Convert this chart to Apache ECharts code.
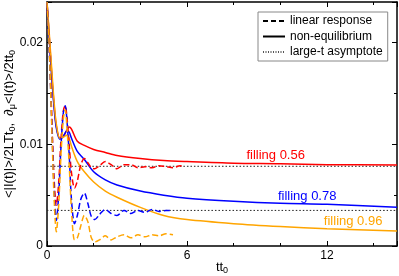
<!DOCTYPE html>
<html>
<head>
<meta charset="utf-8">
<script src="https://cdn.jsdelivr.net/npm/echarts@6/dist/echarts.min.js"></script>
<style>html,body{margin:0;padding:0;background:#fff}#c{width:399px;height:276px}</style>
</head>
<body>
<div id="c"></div>
<script>
// time grid for non-equilibrium (solid) curves
var tSolid = [0, 0.1, 0.2, 0.3, 0.4, 0.55, 0.7, 0.85, 0.95, 1.05, 1.3, 1.6, 2, 2.5, 3, 4, 5, 6, 8, 10, 12, 15];
var redSolid    = [0.024, 0.0205, 0.017, 0.0140, 0.0118, 0.0106, 0.0108, 0.0114, 0.0117, 0.0115, 0.0103, 0.0099, 0.0095, 0.0092, 0.0089, 0.0086, 0.0084, 0.0083, 0.00815, 0.0081, 0.0080, 0.00797];
var blueSolid   = [0.024, 0.0203, 0.0167, 0.0137, 0.0116, 0.0105, 0.0108, 0.0113, 0.0112, 0.0106, 0.0093, 0.0085, 0.0073, 0.0065, 0.0060, 0.0054, 0.0050, 0.0047, 0.0044, 0.0042, 0.0041, 0.0038];
var orangeSolid = [0.024, 0.0208, 0.0175, 0.0143, 0.0120, 0.0106, 0.0107, 0.0109, 0.0106, 0.0098, 0.0083, 0.0073, 0.0063, 0.0054, 0.0048, 0.0038, 0.0030, 0.0026, 0.0022, 0.00192, 0.0017, 0.00147];

// time grid for linear response (dashed) curves
var tDash = [0, 0.1, 0.2, 0.3, 0.4, 0.5, 0.6, 0.7, 0.78, 0.85, 0.95, 1.05, 1.18, 1.3, 1.45, 1.6, 1.75, 1.9, 2.05, 2.25, 2.5, 2.75, 3, 3.3, 3.6, 3.9, 4.2, 4.5, 4.8, 5.1, 5.4, 5.7, 5.9];
var redDash    = [0.024, 0.0195, 0.013, 0.0068, 0.0040, 0.0062, 0.0105, 0.0133, 0.0138, 0.0128, 0.0100, 0.0072, 0.0057, 0.0064, 0.0080, 0.0086, 0.0082, 0.0077, 0.0076, 0.0079, 0.0083, 0.0080, 0.0076, 0.0080, 0.0080, 0.0077, 0.0078, 0.0077, 0.0079, 0.0078, 0.0077, 0.0079, 0.0078];
var blueDash   = [0.024, 0.019, 0.0125, 0.0058, 0.0025, 0.0050, 0.0098, 0.0131, 0.0138, 0.0125, 0.0090, 0.0045, 0.0022, 0.0030, 0.0046, 0.0052, 0.0042, 0.0029, 0.0026, 0.0031, 0.0036, 0.0032, 0.0030, 0.0035, 0.0032, 0.0035, 0.0033, 0.0036, 0.0034, 0.0035, 0.0035];
var orangeDash = [0.024, 0.0193, 0.012, 0.0050, 0.0014, 0.0040, 0.0090, 0.0125, 0.0134, 0.0118, 0.0080, 0.0035, 0.0006, 0.0008, 0.0020, 0.0030, 0.0024, 0.0008, 0.0004, 0.0006, 0.0010, 0.0006, 0.0009, 0.0011, 0.0008, 0.0011, 0.0009, 0.0011, 0.0010, 0.0012, 0.0011];

// large-t asymptotes
var tAsym = [0, 15];
var redAsym = 0.00784;
var blueAsym = 0.0035;

var fillingLabels = ['filling 0.56', 'filling 0.78', 'filling 0.96'];
var legendNames = ['linear response', 'non-equilibrium', 'large-t asymptote'];

function pairs(t, v) { var out = []; for (var i = 0; i < v.length; i++) out.push([t[i], v[i]]); return out; }

var FONT = 'Liberation Sans, Arial, Helvetica, sans-serif';
var RED = '#ff0000', BLUE = '#0000ff', ORANGE = '#ffa500';

function axisBase(pos, showLabel) {
  return {
    axisLine: { show: true, onZero: false, lineStyle: { color: '#000', width: 1.5 } },
    axisTick: { show: true, inside: true, length: 5, lineStyle: { color: '#000', width: 1 } },
    minorTick: { show: true, length: 3, lineStyle: { color: '#000', width: 1 } },
    splitLine: { show: false },
    minorSplitLine: { show: false },
    axisLabel: { show: showLabel, color: '#000', fontSize: 12, fontFamily: FONT, showMaxLabel: false, margin: 4 },
    position: pos
  };
}

var xBottom = Object.assign(axisBase('bottom', true), {
  type: 'value', min: 0, max: 15, interval: 6, gridIndex: 0,
  name: '{a|tt}{s|0}', nameLocation: 'middle', nameGap: 13, nameMoveOverlap: false,
  nameTextStyle: { rich: {
    a: { fontSize: 13, fontFamily: FONT, color: '#000', lineHeight: 16 },
    s: { fontSize: 9, fontFamily: FONT, color: '#000', lineHeight: 16, padding: [7, 0, 0, 0] }
  } }
});
xBottom.minorTick.splitNumber = 3;
var xTop = Object.assign(axisBase('top', false), { type: 'value', min: 0, max: 15, interval: 6, gridIndex: 0 });
xTop.minorTick.splitNumber = 3;

var yLeft = Object.assign(axisBase('left', true), {
  type: 'value', min: 0, max: 0.024, interval: 0.01, gridIndex: 0,
  name: '{a|<|I(t)|>/2LTt}{s|0}{a|,  ∂}{s|μ}{a|<I(t)>/2tt}{s|0}', nameLocation: 'middle', nameGap: 30, nameMoveOverlap: false,
  nameTextStyle: { rich: {
    a: { fontSize: 13, fontFamily: FONT, color: '#000', lineHeight: 16 },
    s: { fontSize: 9, fontFamily: FONT, color: '#000', lineHeight: 16, padding: [7, 0, 0, 0] }
  } }
});
yLeft.minorTick.splitNumber = 2;
var yRight = Object.assign(axisBase('right', false), { type: 'value', min: 0, max: 0.024, interval: 0.01, gridIndex: 0 });
yRight.minorTick.splitNumber = 2;

function lineSeries(name, data, color, type, width, extra) {
  var s = {
    name: name, type: 'line', data: data, showSymbol: false, symbol: 'none', smooth: 0.3,
    xAxisIndex: 0, yAxisIndex: 0, animation: false, silent: true,
    lineStyle: { color: color, width: width, type: type }, itemStyle: { color: color }
  };
  return Object.assign(s, extra || {});
}

function fillLabel(text, color, x, y) {
  return {
    symbol: 'circle', symbolSize: 0, silent: true, animation: false,
    data: [{ coord: [x, y] }],
    label: { show: true, position: 'inside', formatter: text, color: color, fontSize: 13, fontFamily: FONT }
  };
}

var series = [
  lineSeries('asym red', pairs(tAsym, [redAsym, redAsym]), '#222', [1.5, 2], 1),
  lineSeries('asym blue', pairs(tAsym, [blueAsym, blueAsym]), '#222', [1.5, 2], 1),
  lineSeries('red solid', pairs(tSolid, redSolid), RED, 'solid', 1.5, { markPoint: fillLabel(fillingLabels[0], RED, 9.8, 0.0089) }),
  lineSeries('blue solid', pairs(tSolid, blueSolid), BLUE, 'solid', 1.5, { markPoint: fillLabel(fillingLabels[1], BLUE, 11.15, 0.0049) }),
  lineSeries('orange solid', pairs(tSolid, orangeSolid), ORANGE, 'solid', 1.5, { markPoint: fillLabel(fillingLabels[2], ORANGE, 13.12, 0.00245) }),
  lineSeries('red dash', pairs(tDash, redDash), RED, [6, 3], 1.5),
  lineSeries('blue dash', pairs(tDash, blueDash), BLUE, [6, 3], 1.5),
  lineSeries('orange dash', pairs(tDash, orangeDash), ORANGE, [6, 3], 1.5),
  lineSeries(legendNames[0], [], '#000', [5, 3], 1.2),
  lineSeries(legendNames[1], [], '#000', 'solid', 1.2),
  lineSeries(legendNames[2], [], '#555', [1, 1.5], 1)
];

var chart = echarts.init(document.getElementById('c'), null, { renderer: 'canvas' });
chart.setOption({
  animation: false,
  backgroundColor: '#fff',
  textStyle: { fontFamily: FONT },
  grid: { left: 47, right: 2, top: 2, bottom: 30, containLabel: false, outerBoundsMode: 'none' },
  xAxis: [xBottom, xTop],
  yAxis: [yLeft, yRight],
  legend: {
    data: legendNames, orient: 'vertical', left: 258, top: 12,
    itemWidth: 22, itemHeight: 12, itemGap: 3.5,
    padding: [3, 5, 3, 4],
    borderColor: '#888', borderWidth: 1, backgroundColor: '#fff',
    itemStyle: { opacity: 0 },
    textStyle: { fontSize: 12, color: '#000', fontFamily: FONT, padding: [0, 0, 0, 0] },
    selectedMode: false
  },
  series: series
});
</script>
</body>
</html>
